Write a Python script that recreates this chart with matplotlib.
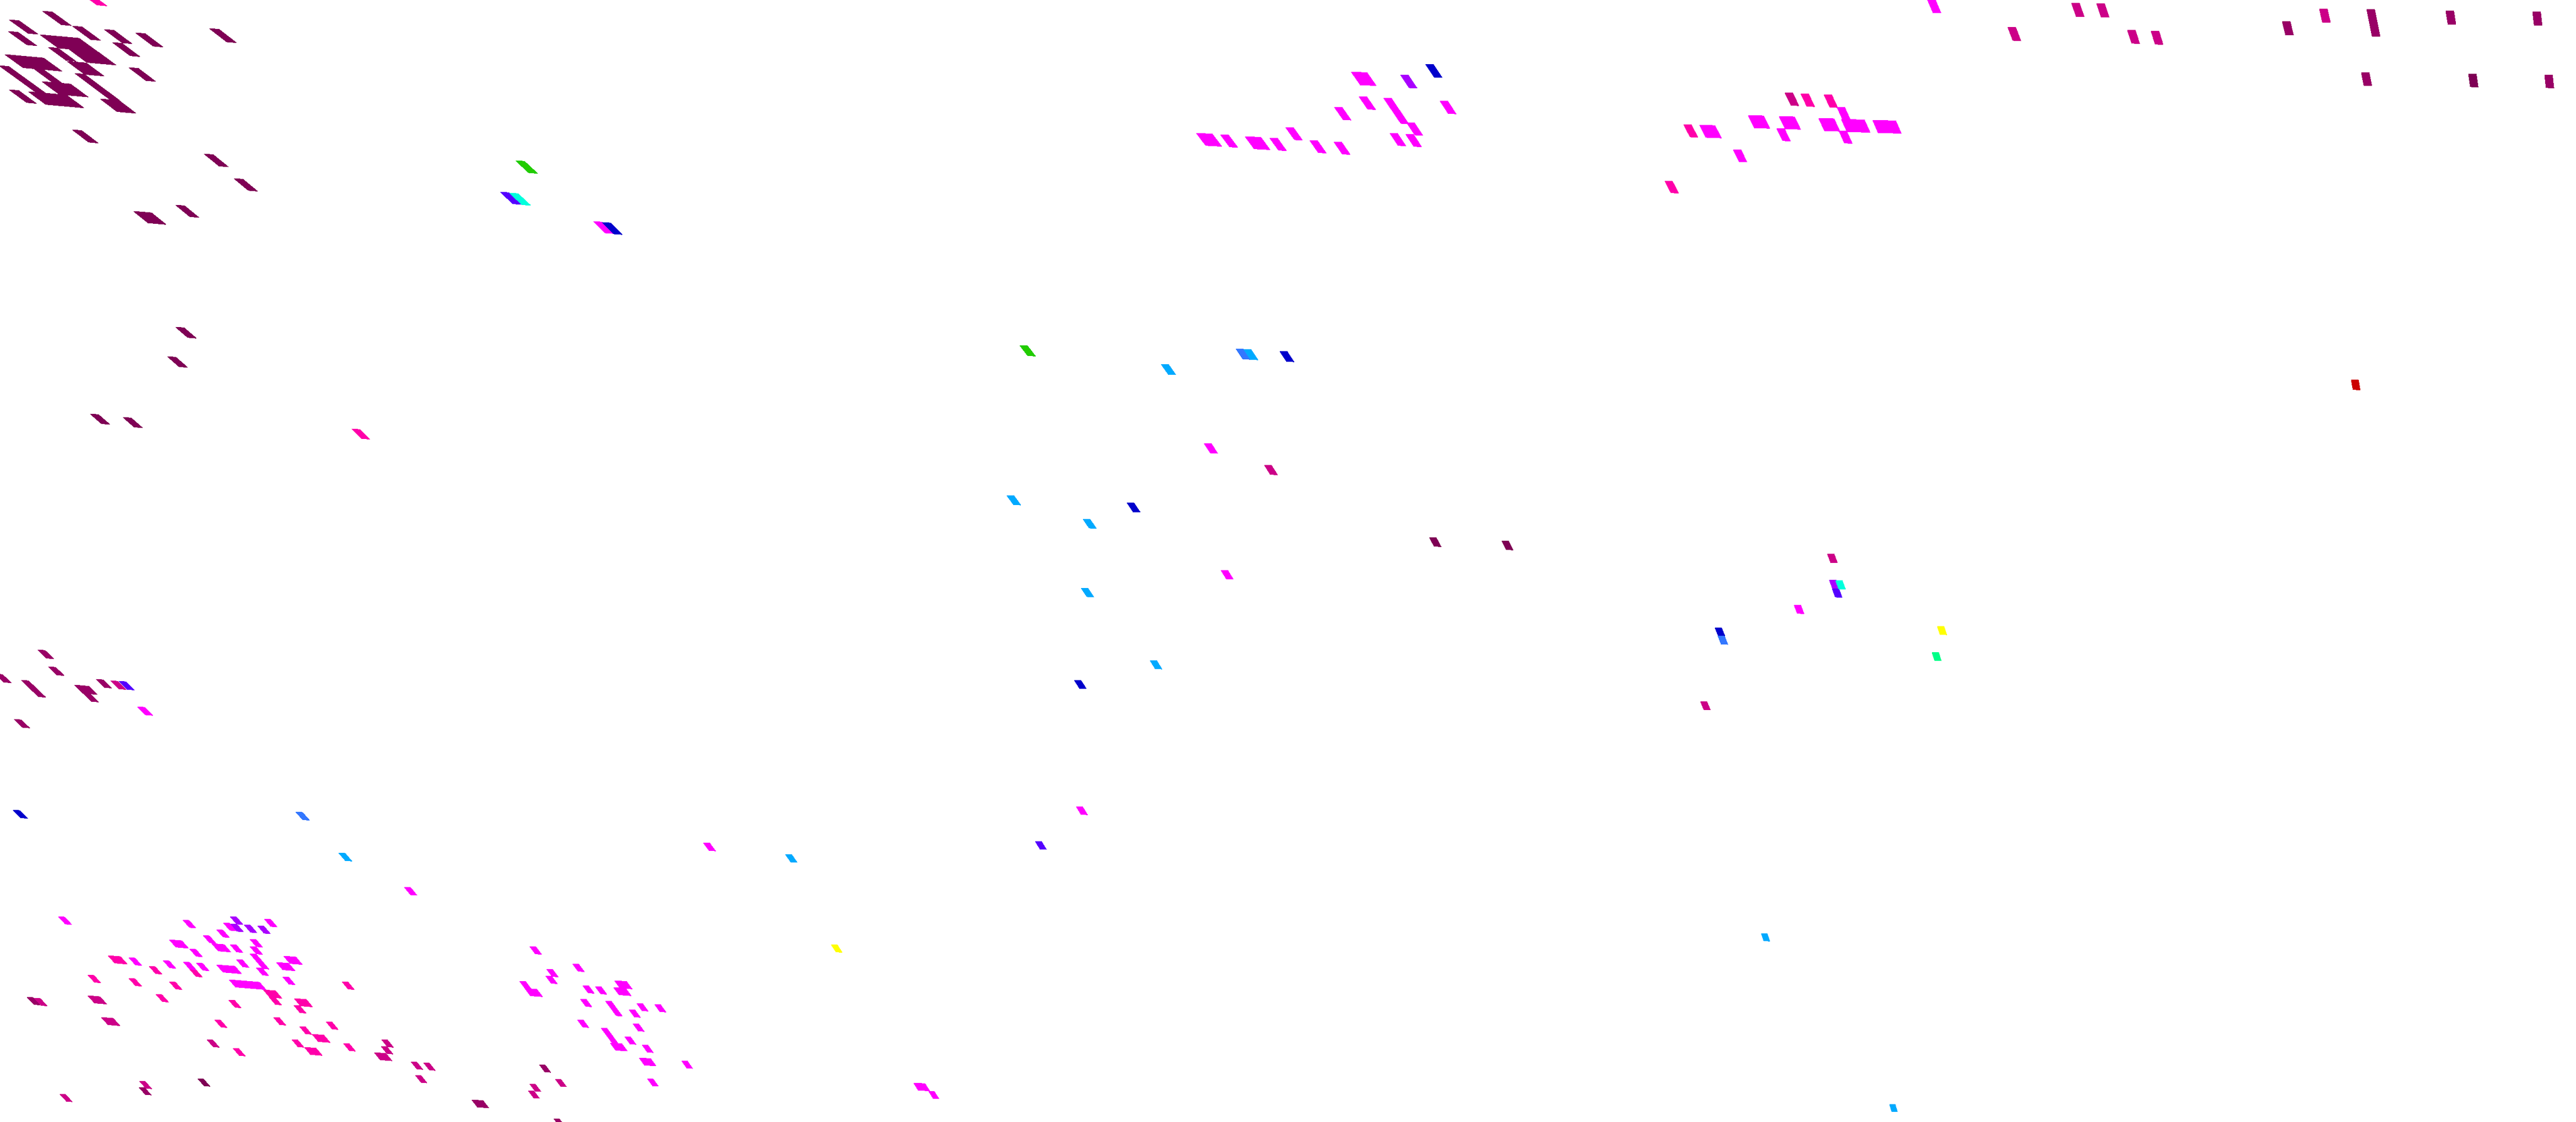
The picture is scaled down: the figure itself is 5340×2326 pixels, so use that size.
import numpy as np
import matplotlib
matplotlib.use("Agg")
import matplotlib.pyplot as plt
from matplotlib.collections import PolyCollection
from matplotlib.colors import BoundaryNorm, ListedColormap

WIDTH, HEIGHT = 5340, 2326

level_colours = ["#7f0055", "#990066", "#cc0088", "#ff00aa", "#ff00ff", "#aa00ff",
                 "#5500ff", "#0000cc", "#3377ff", "#00aaff", "#00ffdd", "#00ff88",
                 "#22cc00", "#ffff00", "#cc0000"]

# Células isoladas, uma lista de posições por nível
x0 = [88, 19, 150, 17, 216, 281, 434, 233, 100, 71, 19, 267, 150, 423, 485, 364, 410, 5117,
      364, 347, 187, 255, 2963, 3113]
y0 = [23, 41, 54, 65, 61, 68, 59, 88, 98, 143, 186, 140, 269, 319, 370, 425, 2236, 153,
      678, 739, 858, 865, 1114, 1121]

x1 = [78, 100, -10, 199, 172, 29, 56, 288, 1118, 1148, 5070, 5250, 4731, 4895, 5275]
y1 = [1347, 1382, 1397, 1408, 1437, 1491, 2067, 2254, 2207, 2319, 22, 24, 44, 150, 155]

x2 = [229, 71, 429, 791, 790, 852, 878, 289, 861, 124, 1151, 1098, 1095, 3700, 4294, 4346,
      4808, 4162, 4410, 4459, 2621, 3788, 3525]
y2 = [1411, 2069, 2155, 2155, 2169, 2201, 2203, 2241, 2229, 2268, 2237, 2247, 2261, 192, 6, 7,
      18, 56, 62, 64, 964, 1148, 1454]

x3 = [162, 309, 393, 182, 267, 351, 709, 323, 558, 474, 609, 445, 567, 676, 621, 605, 712, 483,
      3733, 3781, 3490, 3451, 729]
y3 = [-18, 2003, 2009, 2021, 2028, 2035, 2035, 2061, 2067, 2073, 2084, 2114, 2109, 2118, 2128,
      2155, 2163, 2173, 194, 196, 258, 375, 889]

x4 = [285, 838, 121, 379, 548, 463, 449, 421, 518, 477, 393, 518, 267, 338, 490, 380, 407, 531, 586,
      1098, 1187, 1133, 1131, 1077, 1208, 1234, 1203, 1320, 1357, 1304, 1197, 1312, 1295, 1331,
      1413, 1342, 2817, 2766, 2985, 2916, 2665, 2530, 2632, 2881, 2914, 2715, 2765,
      3808, 3683, 3812, 3593, 3995, 3719, 1230, 2496, 2531, 2231, 1458, 1925]
y4 = [1465, 1839, 1900, 1907, 1905, 1913, 1927, 1939, 1947, 1958, 1967, 1962, 1985, 1991, 1989,
      1994, 1996, 2006, 2025, 1962, 1998, 2009, 2023, 2034, 2043, 2045, 2071, 2080, 2082, 2093,
      2114, 2122, 2149, 2166, 2199, 2236, 200, 222, 209, 254, 264, 279, 286, 276, 278, 291, 294,
      222, 266, 271, 310, -2, 1254, 459, 919, 1182, 1672, 1747, 2262]

x5 = [478, 477, 506, 534, 2903, 3792]
y5 = [1915, 1900, 1917, 1919, 155, 1202]

x6 = [246, 1037, 3798, 2146]
y6 = [1412, 398, 1220, 1744]

x7 = [2955, 3555, 1248, 2653, 2336, 2227, 27]
y7 = [133, 1301, 461, 728, 1042, 1410, 1679]

x8 = [3561, 2562, 613]
y8 = [1318, 723, 1683]

x9 = [2407, 2578, 2087, 2245, 2241, 2384, 702, 1628, 3651, 3917]
y9 = [755, 724, 1027, 1076, 1219, 1369, 1768, 1771, 1935, 2289]

x10 = [3805, 1056]
y10 = [1203, 400]

x11 = [4005]
y11 = [1352]

x12 = [1069, 2114]
y12 = [333, 716]

x13 = [4016, 1723]
y13 = [1298, 1958]

x14 = [4874]
y14 = [787]

singles_x = [x0, x1, x2, x3, x4, x5, x6, x7, x8, x9, x10, x11, x12, x13, x14]
singles_y = [y0, y1, y2, y3, y4, y5, y6, y7, y8, y9, y10, y11, y12, y13, y14]

# Blocos de células contíguas do mesmo nível
block_x = [83, 143, 139, 10, 87, -2, 59, 155, 208, 277,
           44, 154,
           439, 351, 224, 588, 518, 573, 449, 475, 546, 182, 610, 210, 647, 631, 776,
           1088, 1274, 1272, 1255, 1246, 1265, 1325, 978,
           2801, 2868, 2480, 2581,
           3624, 3688, 3770, 3817, 3882, 3523, 4906, 1894]
block_y = [72, 102, 127, 113, 169, 136, 190, 152, 205, 438,
           1410, 1420,
           1956, 1948, 1981, 1982, 1977, 1995, 2000, 2031, 2052, 2064, 2070, 2109, 2144, 2171, 2182,
           2049, 2033, 2047, 2075, 2131, 2162, 2193, 2280,
           149, 203, 276, 283,
           239, 241, 245, 247, 249, 259, 19, 2245]
block_cols = [4, 3, 2, 4, 3, 1, 4, 1, 2, 2,
              1, 2,
              2, 2, 2, 2, 1, 2, 3, 5, 2, 2, 2, 2, 2, 2, 2,
              2, 2, 2, 1, 1, 2, 2, 2,
              2, 1, 2, 2,
              2, 2, 2, 3, 3, 2, 1, 2]
block_rows = [1, 1, 1, 1, 1, 3, 1, 2, 1, 1,
              2, 1,
              1, 1, 1, 1, 2, 1, 1, 1, 1, 1, 1, 1, 1, 1, 1,
              1, 1, 1, 2, 2, 1, 1, 1,
              1, 2, 1, 1,
              1, 1, 1, 1, 1, 1, 2, 1]
block_level = [0, 0, 0, 0, 0, 0, 0, 0, 0, 0,
               1, 1,
               4, 4, 3, 4, 4, 4, 4, 4, 3, 2, 3, 2, 3, 3, 2,
               4, 4, 4, 4, 4, 4, 4, 1,
               4, 4, 4, 4,
               4, 4, 4, 4, 4, 4, 1, 4]


def cell_shape(x, y):
    """Largura, altura, inclinação e declive locais da grade (px), medidos na figura."""
    height = np.interp(y, [0, 700, 1200, 1450, 2000, 2326], [28.5, 21.5, 18, 17, 15.5, 15])
    width = 11.5 + (1 - y / HEIGHT) * (9 - 4 * min(1, x / 2950))
    shear = (1.05 - 0.98 * x / WIDTH) * (1 + 0.35 * max(0, 1 - y / 1400))
    shear *= np.interp(y, [1500, 1900], [1.0, 0.9])
    slope = 0.08 * (1 - x / WIDTH) + 0.01
    return width, height, shear, slope


def cell_polygon(x, y, cols=1, rows=1):
    w, h, shear, slope = cell_shape(x, y)
    w, h = w * cols, h * rows
    dx = shear * h
    return [(x, y), (x + w, y + slope * w), (x + w + dx, y + slope * w + h), (x + dx, y + h)]


cells = []
for level, (xs, ys) in enumerate(zip(singles_x, singles_y)):
    cells += [(level, cell_polygon(x, y)) for x, y in zip(xs, ys)]
for x, y, c, r, level in zip(block_x, block_y, block_cols, block_rows, block_level):
    cells.append((level, cell_polygon(x, y, c, r)))
cells.sort(key=lambda item: item[0])  # níveis altos por cima

cmap = ListedColormap(level_colours)
norm = BoundaryNorm(np.arange(len(level_colours) + 1) - 0.5, cmap.N)

fig = plt.figure(figsize=(WIDTH / 100, HEIGHT / 100), dpi=100, facecolor="white")
ax = fig.add_axes([0, 0, 1, 1])
ax.set_xlim(0, WIDTH)
ax.set_ylim(HEIGHT, 0)
ax.axis("off")

mesh = PolyCollection([c[1] for c in cells], array=np.array([c[0] for c in cells]),
                      cmap=cmap, norm=norm, edgecolors="none", antialiaseds=False)
ax.add_collection(mesh)

fig.savefig("out.png", dpi=100, facecolor="white")
